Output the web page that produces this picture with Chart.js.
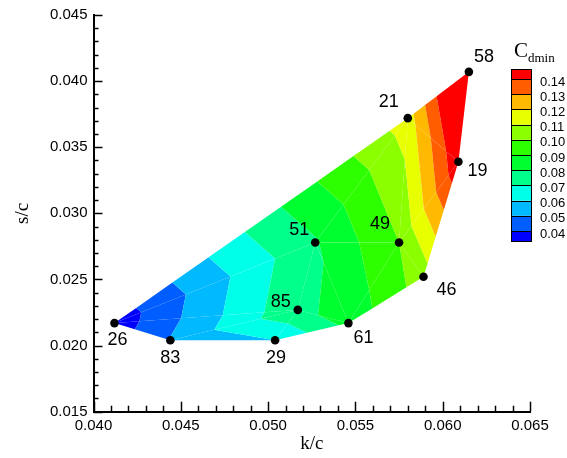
<!DOCTYPE html>
<html>
<head>
<meta charset="utf-8">
<title>Cdmin contour over k/c and s/c</title>
<script src="https://cdn.jsdelivr.net/npm/chart.js@4.4.1/dist/chart.umd.min.js"></script>
<style>
  html, body { margin: 0; padding: 0; background: #ffffff; }
  #wrap { width: 567px; height: 458px; position: relative; }
</style>
</head>
<body>
<div id="wrap"><canvas id="chart" width="567" height="458"></canvas></div>
<script>
// Sample points: case number, roughness height k/c, spacing s/c and measured Cdmin
const caseLabels = ['26', '83', '29', '61', '46', '19', '58', '21', '49', '51', '85'];
const kOverC     = [0.0412, 0.0444, 0.0504, 0.0546, 0.0589, 0.0609, 0.0615, 0.0580, 0.0575, 0.0527, 0.0517];
const sOverC     = [0.0217, 0.0204, 0.0204, 0.0217, 0.0252, 0.0339, 0.0407, 0.0372, 0.0278, 0.0278, 0.0227];
const cdmin      = [0.034, 0.0505, 0.060, 0.083, 0.105, 0.148, 0.168, 0.115, 0.100, 0.079, 0.078];

// Triangulation of the sample points (indices into the arrays above)
const triangles = [
  [0, 1, 10], [1, 2, 10], [2, 3, 10], [10, 3, 9], [0, 10, 9], [0, 9, 7],
  [9, 3, 8], [3, 4, 8], [9, 8, 7], [8, 4, 5], [8, 5, 7], [7, 5, 6]
];

// Contour levels and the flood colour of each band (lowest band first)
const contourLevels = [0.04, 0.05, 0.06, 0.07, 0.08, 0.09, 0.10, 0.11, 0.12, 0.13, 0.14];
const bandColors = ['#0000ff', '#005dff', '#00b9ff', '#00ffe8', '#00ff8b', '#00ff2e',
                    '#2eff00', '#8bff00', '#e8ff00', '#ffb900', '#ff5d00', '#ff0000'];

// Axis ticks
const xTicks = [0.040, 0.045, 0.050, 0.055, 0.060, 0.065];
const yTicks = [0.015, 0.020, 0.025, 0.030, 0.035, 0.040, 0.045];
const minorStep = 0.001;

// Where each case number sits relative to its marker (px)
const labelOffsets = [[3, 17], [0, 18], [1, 18], [15, 15], [23, 13], [19, 9], [15, -15], [-19, -16], [-19, -18], [-16, -12], [-17, -8]];

const serif = '"Liberation Serif", "Times New Roman", serif';
const sans = '"Liberation Sans", Arial, sans-serif';

function clipPoly(poly, level, keepAbove) {
  const out = [];
  for (let i = 0; i < poly.length; i++) {
    const a = poly[i], b = poly[(i + 1) % poly.length];
    const ina = keepAbove ? a.v >= level : a.v <= level;
    const inb = keepAbove ? b.v >= level : b.v <= level;
    if (ina) out.push(a);
    if (ina !== inb) {
      const t = (level - a.v) / (b.v - a.v);
      out.push({ x: a.x + t * (b.x - a.x), y: a.y + t * (b.y - a.y), v: level });
    }
  }
  return out;
}

// Flooded contour bands, drawn through the chart's own scales
const contourPlugin = {
  id: 'contourFlood',
  beforeDatasetsDraw(chart) {
    const { ctx, scales: { x, y } } = chart;
    ctx.save();
    for (const tri of triangles) {
      const poly = tri.map(i => ({ x: x.getPixelForValue(kOverC[i]), y: y.getPixelForValue(sOverC[i]), v: cdmin[i] }));
      for (let b = 0; b < bandColors.length; b++) {
        let p = poly;
        if (b > 0) p = clipPoly(p, contourLevels[b - 1], true);
        if (p.length > 2 && b < contourLevels.length) p = clipPoly(p, contourLevels[b], false);
        if (p.length < 3) continue;
        ctx.beginPath();
        ctx.moveTo(p[0].x, p[0].y);
        for (let j = 1; j < p.length; j++) ctx.lineTo(p[j].x, p[j].y);
        ctx.closePath();
        ctx.fillStyle = bandColors[b];
        ctx.fill();
      }
    }
    ctx.restore();
  },
  afterDatasetsDraw(chart) {
    const { ctx } = chart;
    const meta = chart.getDatasetMeta(0);
    ctx.save();
    ctx.fillStyle = '#000';
    ctx.font = '18px ' + sans;
    ctx.textAlign = 'center';
    ctx.textBaseline = 'middle';
    meta.data.forEach((pt, i) => {
      ctx.fillText(caseLabels[i], pt.x + labelOffsets[i][0], pt.y + labelOffsets[i][1]);
    });
    ctx.restore();
  },
  afterDraw(chart) {
    const { ctx, scales: { x, y } } = chart;
    ctx.save();
    // inward major and minor ticks
    ctx.strokeStyle = '#000';
    ctx.lineWidth = 1.5;
    const x0 = x.left, y0 = y.bottom;
    for (let v = x.min; v <= x.max + 1e-9; v += minorStep) {
      const major = xTicks.some(t => Math.abs(t - v) < 1e-6);
      const px = Math.round(x.getPixelForValue(v)) + 0.5;
      ctx.beginPath();
      ctx.moveTo(px, y0);
      ctx.lineTo(px, y0 - (major ? 10 : 6));
      ctx.stroke();
    }
    for (let v = y.min; v <= y.max + 1e-9; v += minorStep) {
      const major = yTicks.some(t => Math.abs(t - v) < 1e-6);
      const py = Math.round(y.getPixelForValue(v)) + 0.5;
      ctx.beginPath();
      ctx.moveTo(x0, py);
      ctx.lineTo(x0 + (major ? 9 : 5), py);
      ctx.stroke();
    }

    // colour bar
    const bx = 511, bw = 20, step = 15.2, yLow = 231, endH = 10;
    const nb = bandColors.length;
    const top = yLow - (contourLevels.length - 1) * step - endH;
    for (let b = 0; b < nb; b++) {
      let y1, y2;
      if (b === 0) { y1 = yLow; y2 = yLow + endH; }
      else if (b === nb - 1) { y1 = top; y2 = top + endH; }
      else { y2 = yLow - (b - 1) * step; y1 = y2 - step; }
      ctx.fillStyle = bandColors[b];
      ctx.fillRect(bx, y1, bw, y2 - y1);
      ctx.strokeStyle = '#000';
      ctx.lineWidth = 1;
      ctx.strokeRect(bx + 0.5, Math.round(y1) + 0.5, bw, Math.round(y2) - Math.round(y1));
    }
    ctx.fillStyle = '#000';
    ctx.font = '13px ' + sans;
    ctx.textAlign = 'left';
    ctx.textBaseline = 'middle';
    contourLevels.forEach((lv, i) => {
      ctx.fillText(lv.toFixed(2), 540, yLow - i * step + 3);
    });
    // colour bar title: C with subscript dmin
    ctx.textBaseline = 'alphabetic';
    ctx.font = '21px ' + serif;
    ctx.fillText('C', 514, 57);
    const cw = ctx.measureText('C').width;
    ctx.font = '13px ' + serif;
    ctx.fillText('dmin', 514 + cw, 62);
    ctx.restore();
  }
};

new Chart(document.getElementById('chart'), {
  type: 'scatter',
  data: {
    datasets: [{
      data: kOverC.map((k, i) => ({ x: k, y: sOverC[i] })),
      pointRadius: 4.3,
      pointHoverRadius: 4.3,
      pointBackgroundColor: '#000',
      pointBorderColor: '#000',
      pointBorderWidth: 0,
      showLine: false,
      clip: false
    }]
  },
  options: {
    responsive: false,
    animation: false,
    events: [],
    layout: { padding: { top: 15, right: 37, left: 0, bottom: 0 } },
    plugins: { legend: { display: false }, tooltip: { enabled: false } },
    scales: {
      x: {
        type: 'linear', min: 0.040, max: 0.065,
        afterFit(scale) { scale.height = 46.3; },
        afterBuildTicks(scale) { scale.ticks = xTicks.map(v => ({ value: v })); },
        grid: { display: false, drawTicks: false },
        border: { display: true, color: '#000', width: 2 },
        ticks: {
          color: '#000', padding: 5, maxRotation: 0, autoSkip: false,
          font: { family: sans, size: 15 },
          callback: v => Number(v).toFixed(3)
        },
        title: {
          display: true, text: 'k/c', color: '#000',
          font: { family: serif, size: 19 }, padding: { top: 0, bottom: 3 }
        }
      },
      y: {
        type: 'linear', min: 0.015, max: 0.045,
        afterFit(scale) { scale.width = 93.5; },
        afterBuildTicks(scale) { scale.ticks = yTicks.map(v => ({ value: v })); },
        grid: { display: false, drawTicks: false },
        border: { display: true, color: '#000', width: 2 },
        ticks: {
          color: '#000', padding: 6, autoSkip: false,
          font: { family: sans, size: 15 },
          callback: v => Number(v).toFixed(3)
        },
        title: {
          display: true, text: 's/c', color: '#000',
          font: { family: serif, size: 19 }, padding: { top: 12, bottom: 12 }
        }
      }
    }
  },
  plugins: [contourPlugin]
});
</script>
</body>
</html>
